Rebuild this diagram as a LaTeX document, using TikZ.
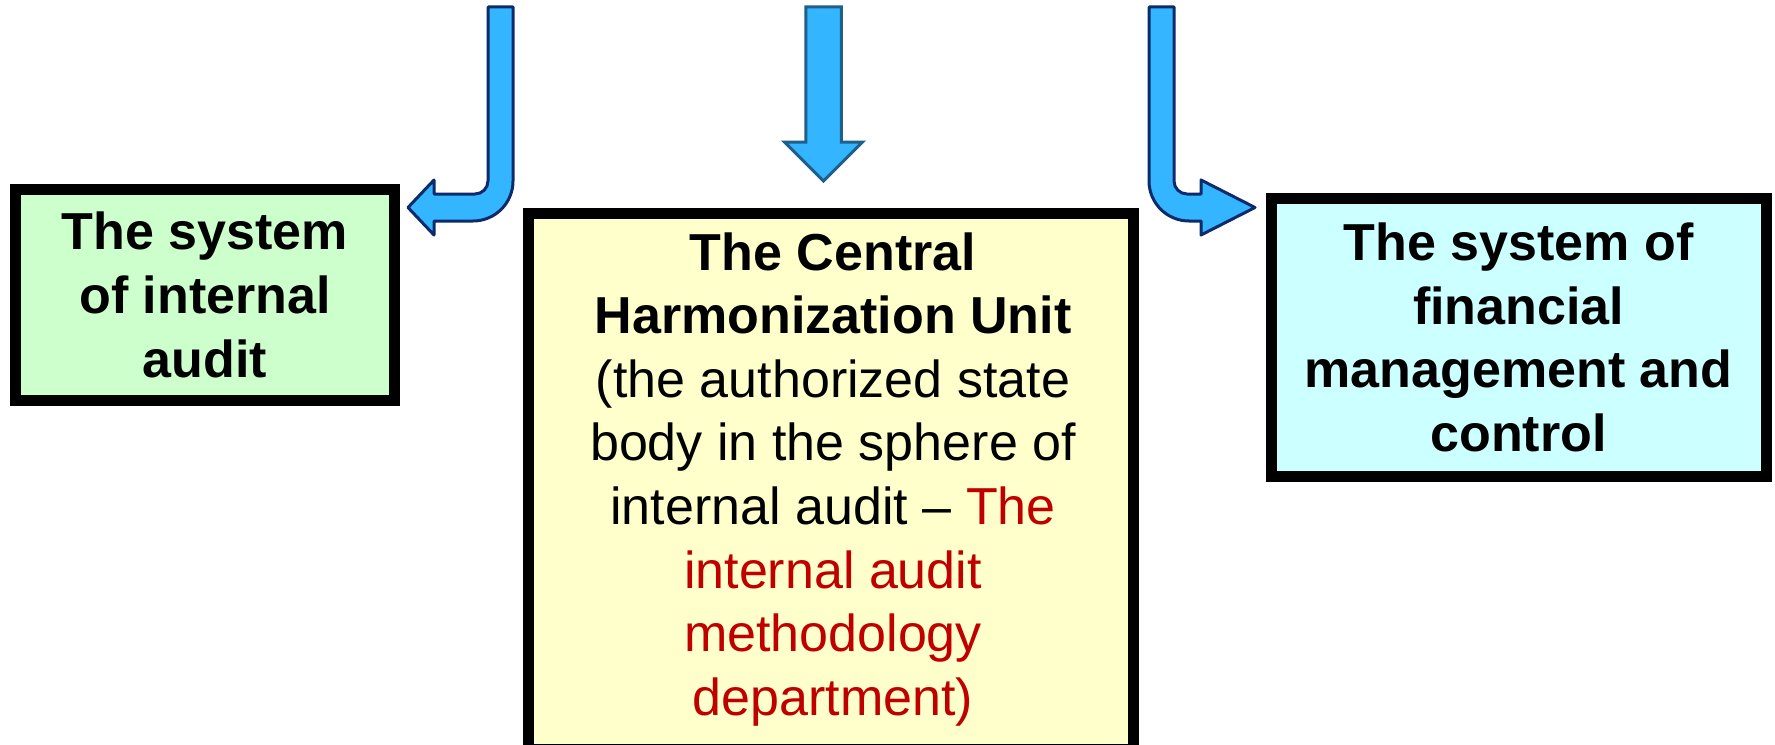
\documentclass[tikz,border=0pt]{standalone}
\usepackage{fontspec}
\setmainfont{Liberation Sans}
\definecolor{arrowblue}{HTML}{33B5FF}
\definecolor{arrowline}{HTML}{0B2B6B}
\definecolor{midline}{HTML}{1F5F8C}
\definecolor{auditgreen}{HTML}{CCFFCC}
\definecolor{chuyellow}{HTML}{FFFFCC}
\definecolor{fmccyan}{HTML}{CCFFFF}
\definecolor{deptred}{HTML}{C00000}
\begin{document}
\begin{tikzpicture}[
  box/.style={draw=black, line width=1.1mm, align=center, inner sep=0pt,
    font=\fontsize{14.8}{18.1}\selectfont\bfseries},
  bluearrow/.style={fill=arrowblue, draw=arrowline, line width=0.3mm, line join=round}]
  \fill[white] (0,0) rectangle (17.75,7.44);
  \useasboundingbox (0,0) rectangle (17.75,7.44);
  % bent arrows
  \draw[bluearrow] (4.88,7.37) -- (5.13,7.37) -- (5.13,5.63)
    arc[start angle=0, end angle=-90, radius=0.4] -- (4.34,5.23) -- (4.34,5.09)
    -- (4.08,5.365) -- (4.34,5.64) -- (4.34,5.50) -- (4.75,5.50)
    arc[start angle=-90, end angle=0, radius=0.13] -- cycle;
  \draw[bluearrow] (11.74,7.37) -- (11.49,7.37) -- (11.49,5.63)
    arc[start angle=180, end angle=270, radius=0.4] -- (12.01,5.23) -- (12.01,5.09)
    -- (12.55,5.365) -- (12.01,5.64) -- (12.01,5.50) -- (11.87,5.50)
    arc[start angle=270, end angle=180, radius=0.13] -- cycle;
  \draw[bluearrow, draw=midline, line join=miter] (8.0575,7.37) -- (8.4125,7.37) -- (8.4125,6.02)
    -- (8.625,6.02) -- (8.235,5.63) -- (7.845,6.02) -- (8.0575,6.02) -- cycle;
  % boxes
  \node[box, fill=auditgreen, minimum width=3.785cm, minimum height=2.115cm] (audit) at (2.05,4.49)
    {The system\\of internal\\audit};
  \node[box, fill=chuyellow, minimum width=6.05cm, minimum height=5.36cm, anchor=north] (chu) at (8.314,5.362) {};
  \node[align=center, inner sep=0pt, anchor=north, font=\fontsize{14.8}{18.1}\selectfont] (chutext) at (8.33,5.123)
    {\textbf{The Central}\\\textbf{Harmonization Unit}\\(the authorized state\\body in the sphere of\\
     internal audit – \textcolor{deptred}{The}\\\textcolor{deptred}{internal audit}\\
     \textcolor{deptred}{methodology}\\\textcolor{deptred}{department)}};
  \node[box, fill=fmccyan, minimum width=4.95cm, minimum height=2.775cm] (fmc) at (15.185,4.0675)
    {The system of\\financial\\management and\\control};
\end{tikzpicture}
\end{document}
